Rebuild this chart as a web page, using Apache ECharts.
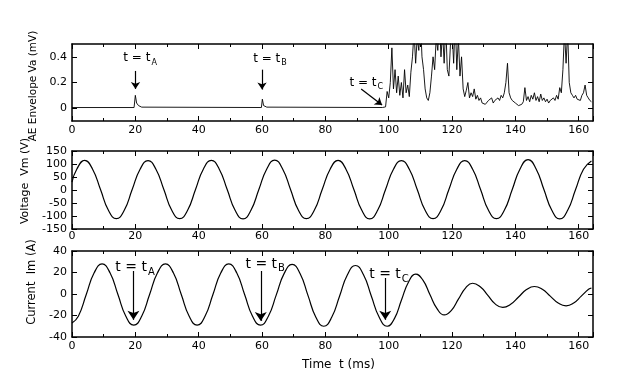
<!DOCTYPE html>
<html><head><meta charset="utf-8">
<script src="https://cdn.jsdelivr.net/npm/echarts@6/dist/echarts.min.js"></script>
<style>html,body{margin:0;padding:0;background:#fff}#c{width:619px;height:391px}</style>
</head><body><div id="c"></div>
<script>
// ---------- data ----------
// AE envelope Va (mV)
const aeTime = [0,19.6,20,20.4,21,22,59.8,60.1,60.5,61.5,
  98,98.5,99,99.5,100,100.5,101,101.5,102,102.5,103,103.5,104,104.5,105,105.5,106,106.5,107,107.5,
  108,108.5,109,109.5,110,110.5,111,111.5,112,112.5,113,113.5,114,114.5,115,115.5,116,116.5,117,117.5,
  118,118.5,119,119.5,120,120.5,121,121.5,122,122.5,123,123.5,124,124.5,125,125.5,126,126.5,127,127.5,
  128,128.5,129,129.5,130,130.5,131,131.5,132,132.5,133,133.5,134,134.5,135,135.5,136,136.5,137,137.5,
  138,138.5,139,139.5,140,140.5,141,141.5,142,142.5,143,143.5,144,144.5,145,145.5,146,146.5,147,147.5,
  148,148.5,149,149.5,150,150.5,151,151.5,152,152.5,153,153.5,154,154.5,155,155.5,156,156.5,157,157.5,
  158,158.5,159,159.5,160,160.5,161,161.5,162,162.5,163,163.5,164];
const aeVal = [0.005,0.005,0.1,0.04,0.02,0.008,0.005,0.07,0.02,0.008,
  0.005,0.005,0.01,0.13,0.08,0.2,0.47,0.15,0.3,0.12,0.25,0.1,0.2,0.08,0.3,0.12,0.18,0.09,0.28,0.4,
  0.6,0.35,0.55,0.45,0.7,0.4,0.3,0.15,0.08,0.06,0.12,0.25,0.4,0.3,0.55,0.45,0.7,0.4,0.6,0.35,
  0.65,0.3,0.25,0.5,0.6,0.35,0.7,0.3,0.55,0.25,0.4,0.15,0.09,0.14,0.2,0.08,0.12,0.09,0.15,0.07,
  0.1,0.06,0.08,0.04,0.05,0.03,0.04,0.06,0.05,0.08,0.04,0.06,0.05,0.08,0.06,0.1,0.08,0.12,0.2,0.35,
  0.12,0.08,0.06,0.05,0.04,0.03,0.02,0.02,0.03,0.05,0.16,0.06,0.09,0.05,0.1,0.07,0.12,0.06,0.09,0.05,
  0.11,0.06,0.08,0.05,0.07,0.04,0.06,0.05,0.08,0.06,0.1,0.07,0.16,0.12,0.3,0.6,0.35,0.6,0.2,0.12,
  0.1,0.08,0.1,0.07,0.08,0.06,0.1,0.12,0.18,0.1,0.08,0.06,0.05];

// Voltage Vm (V)
const vTime = [0,1.5,4,6.5,9,11.5,14,16.5,19,21.5,24,26.5,29,31.5,34,36.5,39,41.5,44,46.5,49,51.5,54,56.5,59,
  61.5,64,66.5,69,71.5,74,76.5,79,81.5,84,86.5,89,91.5,94,96.5,99,101.5,104,106.5,109,111.5,114,116.5,119,
  121.5,124,126.5,129,131.5,134,136.5,139,141.5,144,146.5,149,151.5,154,156.5,159,161.5,164];
const vVal = [30,80,114,80,2,-78,-110,-78,2, 80,113,80,2,-78,-110,-78,2, 81,114,80,2,-78,-111,-78,2,
  81,115,81,2,-78,-110,-78,2, 80,114,80,2,-78,-111,-78,2, 80,113,80,2,-78,-110,-78,2,
  80,113,80,2,-78,-110,-78,2, 82,117,82,2,-78,-111,-78,2, 80,112];

// Current Im (A)
const iTime = [0,2,4.5,7,9.5,12,14.5,17,19.5,22,24.5,27,29.5,32,34.5,37,39.5,42,44.5,47,49.5,52,54.5,57,59.5,
  62,64.5,67,69.5,72,74.5,77,79.5,82,84.5,87,89.5,92,94.5,97,99.5,101.8,104,106.3,108.5,110.8,113,115.3,117.5,
  119.8,122,124.3,126.5,128.9,131.3,133.6,136,138.5,141,143.5,146,148.5,151,153.5,156,158.4,160.8,163.1,164];
const iVal = [-27,-20.7,-0.5,19.7,28,19.7,-0.5,-20.7,-29,-20.7,-0.5,19.7,28,19.7,-0.5,-20.7,-29,
  -20.7,-0.5,19.7,28,19.7,-0.5,-20.7,-29,-20.7,-0.8,19.2,27.5,19.1,-1.3,-21.6,-30,
  -21.7,-1.8,18.2,26.5,18.2,-1.8,-21.7,-30,-22.9,-5.8,11.4,18.5,12.9,-0.5,-13.9,-19.5,
  -15.2,-4.8,5.7,10,6.7,-1.3,-9.2,-12.5,-9.6,-2.8,4.1,7,4.4,-2,-8.4,-11,-8.4,-2,4.4,5.5];

// annotation labels (t = tA, tB, tC)
const topMarks = [
  {sub:'A', text:[21.5,0.39], from:[20.05,0.29], to:[20.05,0.15]},
  {sub:'B', text:[62.5,0.385], from:[60,0.30], to:[60,0.145]},
  {sub:'C', text:[92.9,0.2], from:[91.3,0.15], to:[97.9,0.024]}
];
const botMarks = [
  {sub:'A', text:[19.9,25], from:[19.4,21.4], to:[19.4,-24]},
  {sub:'B', text:[61,28], from:[59.6,21.4], to:[59.6,-25]},
  {sub:'C', text:[100.1,18.6], from:[98.9,14.9], to:[98.9,-24]}
];

// ---------- chart ----------
const FONT = 'DejaVu Sans';
const BLACK = '#000';
const zip = (t, v) => t.map((x, i) => [x, v[i]]);

const grids = [
  {left:72, right:26, top:44, height:77},
  {left:72, right:26, top:151, height:78},
  {left:72, right:26, top:251, height:86}
];

function xAxisFor(g, pos, showLabels, extra) {
  return Object.assign({
    type:'value', gridIndex:g, position:pos, min:0, max:164.5, interval:20,
    axisLine:{show:true, onZero:false, lineStyle:{color:BLACK, width:1.5}},
    axisTick:{show:true, inside:true, length:5, lineStyle:{color:BLACK, width:1}},
    minorTick:{show:true, splitNumber:2, length:3, lineStyle:{color:BLACK}},
    splitLine:{show:false}, minorSplitLine:{show:false},
    axisLabel:{show:showLabels, color:BLACK, fontSize:11, fontFamily:FONT, margin:4}
  }, extra || {});
}
function yAxisFor(g, pos, showLabels, range, extra) {
  return Object.assign({
    type:'value', gridIndex:g, position:pos, min:range[0], max:range[1], interval:range[2],
    axisLine:{show:true, onZero:false, lineStyle:{color:BLACK, width:1.5}},
    axisTick:{show:true, inside:true, length:5, lineStyle:{color:BLACK, width:1}},
    splitLine:{show:false},
    axisLabel:{show:showLabels, color:BLACK, fontSize:11, fontFamily:FONT, margin:5}
  }, extra || {});
}

const aeLabelFmt = v => {
  const k = Math.round(v * 10);
  if (k < 0 || k > 4 || k % 2 !== 0) return '';
  return k === 0 ? '0' : (k / 10).toFixed(1);
};

const xAxes = [
  xAxisFor(0,'bottom',true), xAxisFor(0,'top',false),
  xAxisFor(1,'bottom',true, {axisLabel:{show:true,color:BLACK,fontSize:11,fontFamily:FONT,margin:2}}), xAxisFor(1,'top',false),
  xAxisFor(2,'bottom',true, {name:'Time  t (ms)', nameLocation:'middle', nameGap:22,
    nameTextStyle:{color:BLACK, fontSize:12, fontFamily:FONT, padding:[0,0,0,12]}}),
  xAxisFor(2,'top',false)
];
const aeTickCfg = {show:true, inside:true, length:5, customValues:[0,0.2,0.4], lineStyle:{color:BLACK}};
const yAxes = [
  yAxisFor(0,'left',true,[-0.1,0.5,0.1], {
    axisLabel:{color:BLACK, fontSize:11, fontFamily:FONT, margin:5, formatter:aeLabelFmt},
    axisTick:aeTickCfg,
    name:'AE Envelope Va (mV)', nameLocation:'middle', nameGap:32,
    nameTextStyle:{color:BLACK, fontSize:10.5, fontFamily:FONT, padding:[0,7,0,0]}}),
  yAxisFor(0,'right',false,[-0.1,0.5,0.1], {axisTick:aeTickCfg}),
  yAxisFor(1,'left',true,[-150,150,50], {
    name:'Voltage  Vm (V)', nameLocation:'middle', nameGap:33,
    nameTextStyle:{color:BLACK, fontSize:11, fontFamily:FONT, padding:[0,0,0,18]}}),
  yAxisFor(1,'right',false,[-150,150,50]),
  yAxisFor(2,'left',true,[-40,40,20], {
    name:'Current  Im (A)', nameLocation:'middle', nameGap:24,
    nameTextStyle:{color:BLACK, fontSize:11.5, fontFamily:FONT, padding:[0,0,0,24]}}),
  yAxisFor(2,'right',false,[-40,40,20])
];

function markPoints(list, size, subSize, subPad) {
  return {
    silent:true, symbol:'rect', symbolSize:1, itemStyle:{color:'rgba(0,0,0,0)'},
    label:{show:true, position:'inside', color:BLACK, fontFamily:FONT, fontSize:size,
      formatter: p => 't = t{s|' + p.name + '}',
      rich:{s:{fontSize:subSize, fontFamily:FONT, color:BLACK, padding:[subPad,0,0,1]}}},
    data: list.map(m => ({name:m.sub, coord:m.text}))
  };
}
function markLines(list, arrowSize) {
  return {
    silent:true, symbol:['none','arrow'], symbolSize:arrowSize, animation:false,
    lineStyle:{color:BLACK, type:'solid', width:1.2}, label:{show:false},
    emphasis:{disabled:true},
    data: list.map(m => [{coord:m.from}, {coord:m.to}])
  };
}

const option = {
  animation:false,
  backgroundColor:'#fff',
  grid: grids,
  xAxis: xAxes,
  yAxis: yAxes,
  series: [
    {type:'line', xAxisIndex:0, yAxisIndex:0, data:zip(aeTime, aeVal), showSymbol:false, symbol:'none',
     lineStyle:{color:BLACK, width:0.9}, clip:true,
     markPoint: markPoints(topMarks, 12, 8, 9),
     markLine: markLines(topMarks, 7)},
    {type:'line', xAxisIndex:2, yAxisIndex:2, data:zip(vTime, vVal), showSymbol:false, symbol:'none',
     smooth:0.5, lineStyle:{color:BLACK, width:1.2}, clip:true},
    {type:'line', xAxisIndex:4, yAxisIndex:4, data:zip(iTime, iVal), showSymbol:false, symbol:'none',
     smooth:0.5, lineStyle:{color:BLACK, width:1.2}, clip:true,
     markPoint: markPoints(botMarks, 14, 10, 10),
     markLine: markLines(botMarks, 9)}
  ]
};

const chart = echarts.init(document.getElementById('c'), null, {renderer:'canvas'});
chart.setOption(option);
</script>
</body></html>
